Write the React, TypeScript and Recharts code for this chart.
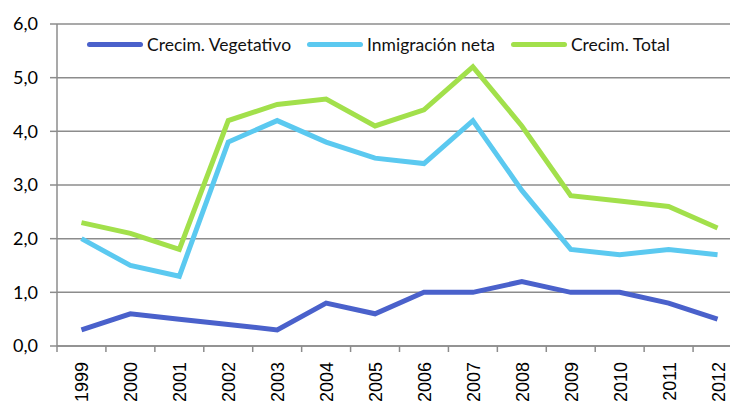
import { LineChart, Line, XAxis, YAxis, CartesianGrid } from 'recharts'

const years = ['1999', '2000', '2001', '2002', '2003', '2004', '2005', '2006', '2007', '2008', '2009', '2010', '2011', '2012']
const vegetativo = [0.3, 0.6, 0.5, 0.4, 0.3, 0.8, 0.6, 1.0, 1.0, 1.2, 1.0, 1.0, 0.8, 0.5]
const inmigracion = [2.0, 1.5, 1.3, 3.8, 4.2, 3.8, 3.5, 3.4, 4.2, 2.9, 1.8, 1.7, 1.8, 1.7]
const total = [2.3, 2.1, 1.8, 4.2, 4.5, 4.6, 4.1, 4.4, 5.2, 4.1, 2.8, 2.7, 2.6, 2.2]
const yTicks = [0, 1, 2, 3, 4, 5, 6]

const series = [
  { key: 'veg', name: 'Crecim. Vegetativo', color: '#4a61cb' },
  { key: 'inm', name: 'Inmigración neta', color: '#5bc9f0' },
  { key: 'tot', name: 'Crecim. Total', color: '#a2e04b' },
]

const data = years.map((year, i) => ({
  year,
  veg: vegetativo[i],
  inm: inmigracion[i],
  tot: total[i],
}))

const GRID = '#8c8c8c'
const HALF_BAND = (742 - 57) / 28

function YearTick({ x, y, payload }: any) {
  return (
    <g>
      <line x1={x - HALF_BAND} y1={y} x2={x - HALF_BAND} y2={y + 6} stroke={GRID} strokeWidth={1.5} />
      <text
        transform={`translate(${x + 1},${y + 16}) rotate(-90)`}
        textAnchor="end"
        dominantBaseline="central"
        fontFamily="'Liberation Sans', Arial, sans-serif"
        fontSize={18}
        fill="#000"
      >
        {payload.value}
      </text>
    </g>
  )
}

function LegendBox() {
  return (
    <div
      style={{
        position: 'absolute',
        top: 34,
        left: 87,
        display: 'flex',
        alignItems: 'center',
        fontFamily: 'Lato, sans-serif',
        fontSize: 17.5,
        color: '#111',
        whiteSpace: 'nowrap',
      }}
    >
      {series.map((s) => (
        <div key={s.key} style={{ display: 'flex', alignItems: 'center', marginRight: 16 }}>
          <div style={{ width: 56, height: 5, borderRadius: 3, background: s.color, marginRight: 4 }} />
          <span>{s.name}</span>
        </div>
      ))}
    </div>
  )
}

export default function App() {
  return (
    <div style={{ position: 'absolute', left: 0, top: 0, width: 730, height: 403, overflow: 'hidden', background: '#fff' }}>
      <LineChart width={745} height={403} data={data} margin={{ top: 24, right: 3, bottom: 0, left: 0 }}>
        <CartesianGrid vertical={false} stroke={GRID} strokeWidth={1.5} />
        <XAxis
          dataKey="year"
          height={57}
          tickSize={0}
          tickMargin={0}
          tickLine={false}
          padding={{ left: HALF_BAND, right: HALF_BAND }}
          axisLine={{ stroke: GRID, strokeWidth: 1.5 }}
          tick={<YearTick />}
          interval={0}
        />
        <YAxis
          width={57}
          domain={[0, 6]}
          ticks={yTicks}
          interval={0}
          tickSize={7}
          tickMargin={12}
          tickLine={{ stroke: GRID, strokeWidth: 1.5 }}
          axisLine={{ stroke: GRID, strokeWidth: 1.5 }}
          tickFormatter={(v: number) => v.toFixed(1).replace('.', ',')}
          tick={{ fontFamily: 'Lato, sans-serif', fontSize: 18, fill: '#000' }}
        />
        {series.map((s) => (
          <Line
            key={s.key}
            dataKey={s.key}
            name={s.name}
            stroke={s.color}
            strokeWidth={5}
            dot={false}
            activeDot={false}
            strokeLinejoin="miter"
            isAnimationActive={false}
          />
        ))}
      </LineChart>
      <LegendBox />
    </div>
  )
}
